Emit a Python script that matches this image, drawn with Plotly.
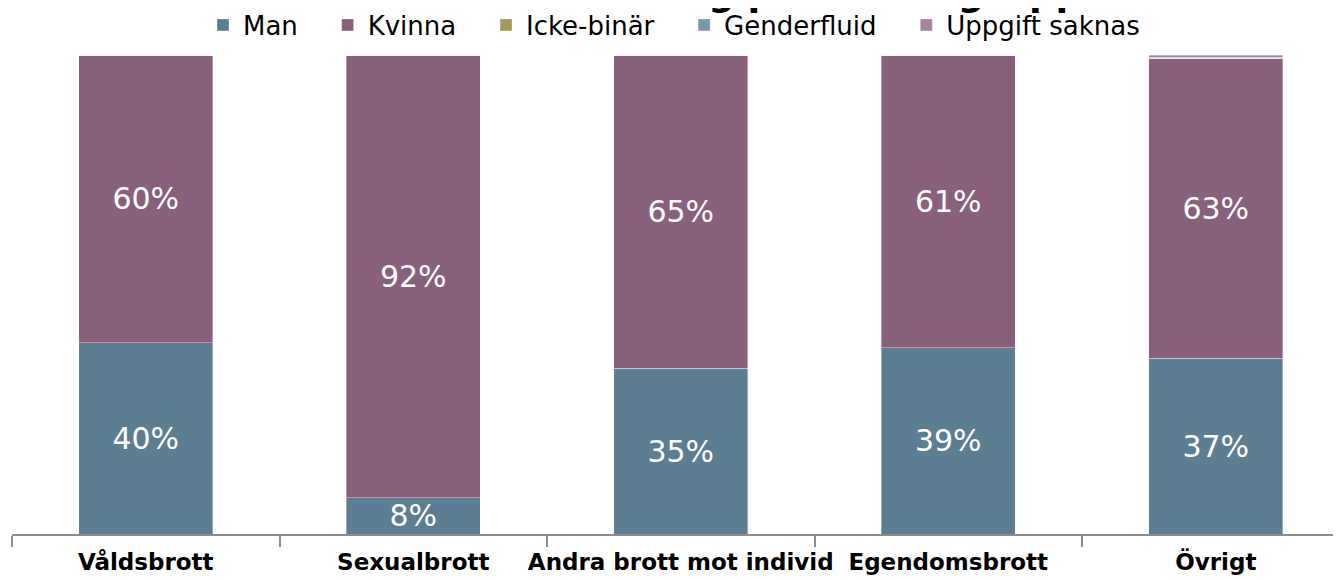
import plotly.graph_objects as go

categories = ["Våldsbrott", "Sexualbrott", "Andra brott mot individ", "Egendomsbrott", "Övrigt"]
series_names = ["Man", "Kvinna", "Icke-binär", "Genderfluid", "Uppgift saknas"]
man = [39.9, 7.6, 34.6, 38.9, 36.7]
kvinna = [60.1, 92.4, 65.4, 61.1, 62.6]
icke_binar = [0, 0, 0, 0, 0]
genderfluid = [0, 0, 0, 0, 0.2]
uppgift_saknas = [0, 0, 0, 0, 0.5]
colors = ["#5c7e92", "#89607c", "#9f9a58", "#7a98aa", "#a5819b"]
show_labels = [True, True, False, False, False]
title_text = "Könsfördelning per brottsgrupp"

# page body adds an 8px offset; size the figure so it ends at the window edge
OFF = 8
W, H = 1341 - OFF, 579 - OFF
ml, mr, mt, mb = 12 - OFF, 0, 55 - OFF, 45
cat_w = 267.5
plot_w = W - ml - mr
plot_h = H - mt - mb
x_max = -0.5 + plot_w / cat_w
pad_names = "\u00a0\u00a0\u00a0"

fig = go.Figure()
for i, (name, vals, col, lab) in enumerate(zip(series_names, [man, kvinna, icke_binar, genderfluid, uppgift_saknas], colors, show_labels)):
    fig.add_trace(go.Bar(
        name=name + (pad_names if i < len(series_names) - 1 else ""), x=categories, y=vals,
        marker=dict(color=col, line=dict(width=0.6, color="rgba(255,255,255,0.6)")),
        text=[f"{round(v)}%" for v in vals] if lab else None,
        textposition="inside" if lab else "none",
        insidetextanchor="middle",
        textangle=0,
        textfont=dict(color="white", size=30, family="DejaVu Sans"),
        hoverinfo="skip",
    ))

fig.add_annotation(
    text=f"<b>{title_text}</b>", xref="paper", yref="paper",
    x=(415 - 12) / plot_w, xanchor="left",
    y=1 + 39 / plot_h, yanchor="bottom",
    showarrow=False, font=dict(size=37, family="DejaVu Sans", color="black"),
)

fig.update_layout(
    width=W, height=H,
    margin=dict(l=ml, r=mr, t=mt, b=mb, pad=0, autoexpand=False),
    barmode="stack", bargap=0.5,
    plot_bgcolor="white", paper_bgcolor="white",
    font=dict(family="DejaVu Sans", color="black"),
    uniformtext=dict(minsize=30, mode="show"),
    showlegend=True,
    legend=dict(orientation="h", x=(225 - 22 - 12) / plot_w, xanchor="left", y=1 + 30 / plot_h, yanchor="middle",
                bgcolor="rgba(0,0,0,0)",
                font=dict(size=26, family="DejaVu Sans"), itemwidth=30, traceorder="normal"),
    xaxis=dict(type="category", range=[-0.5, x_max], showline=True, linecolor="#8c8c8c", linewidth=2,
               ticks="outside", tickson="boundaries", ticklen=11, tickcolor="#8c8c8c", tickwidth=1.5,
               tickangle=0, automargin=False, ticklabelstandoff=6,
               tickfont=dict(size=23, family="DejaVu Sans", color="black"), showgrid=False,
               tickprefix="<b>", ticksuffix="</b>"),
    yaxis=dict(range=[0, 100], visible=False, showgrid=False, automargin=False),
)

fig.write_html("out.html")
